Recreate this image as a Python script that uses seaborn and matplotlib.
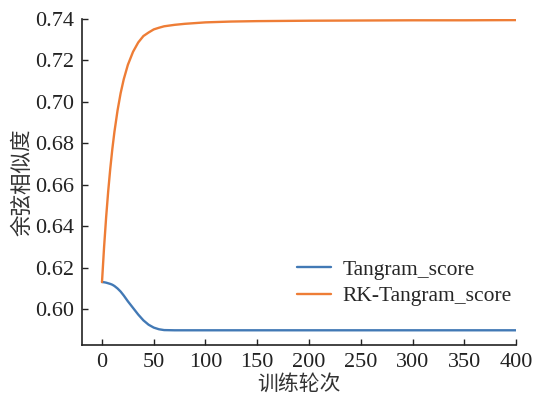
import matplotlib
matplotlib.use("Agg")
import matplotlib.pyplot as plt
import seaborn as sns
import pandas as pd

epochs = [0, 2, 4, 6, 8, 10, 12, 15, 18, 21, 25, 30, 35, 40, 45, 50, 55, 60, 70,
          80, 100, 125, 150, 200, 250, 300, 350, 400]
tangram = [0.6130, 0.6129, 0.6127, 0.6124, 0.6121, 0.6117, 0.6111, 0.6099, 0.6084,
           0.6065, 0.6037, 0.6005, 0.5973, 0.5945, 0.5924, 0.5910, 0.5902, 0.5898,
           0.5897, 0.5897, 0.5897, 0.5897, 0.5897, 0.5897, 0.5897, 0.5897, 0.5897, 0.5897]
rk_tangram = [0.6130, 0.6298, 0.6443, 0.6569, 0.6678, 0.6773, 0.6855, 0.6958, 0.7042,
              0.7109, 0.7179, 0.7242, 0.7287, 0.7318, 0.7335, 0.7350, 0.7358, 0.7365,
              0.7372, 0.7377, 0.7384, 0.7388, 0.7390, 0.7392, 0.7393, 0.7394, 0.7394, 0.7395]
series_names = ["Tangram_score", "RK-Tangram_score"]
x_ticks = [0, 50, 100, 150, 200, 250, 300, 350, 400]
y_ticks = [0.60, 0.62, 0.64, 0.66, 0.68, 0.70, 0.72, 0.74]

df = pd.DataFrame({
    "epoch": epochs * 2,
    "score": tangram + rk_tangram,
    "series": [series_names[0]] * len(epochs) + [series_names[1]] * len(epochs),
})

sns.set_style("ticks")
plt.rcParams["font.family"] = ["Liberation Serif", "Noto Sans CJK SC"]
plt.rcParams["axes.unicode_minus"] = False

fig = plt.figure(figsize=(5.34, 3.97), dpi=100)
ax = fig.add_axes([0.1536, 0.131, 0.8127, 0.821])

sns.lineplot(data=df, x="epoch", y="score", hue="series", hue_order=series_names,
             palette=["#4279b5", "#ee7d36"], linewidth=1.7, ax=ax)

ax.set_xlim(-19.3, 400)
ax.set_ylim(0.5826, 0.74)
ax.set_xticks(x_ticks)
ax.set_yticks(y_ticks)
ax.set_xticklabels([str(t) for t in x_ticks])
ax.set_yticklabels([f"{t:.2f}" for t in y_ticks])
ax.tick_params(direction="in", length=4, width=1, labelsize=16, colors="#222222", pad=6)
for s in ["top", "right"]:
    ax.spines[s].set_visible(False)
for s in ["left", "bottom"]:
    ax.spines[s].set_linewidth(1.2)
    ax.spines[s].set_color("#222222")

ax.set_xlabel("训练轮次", fontsize=15, labelpad=2, color="#333333")
ax.set_ylabel("余弦相似度", fontsize=15.5, labelpad=1, color="#333333")

leg = ax.legend(loc="center right", bbox_to_anchor=(1.035, 0.19), frameon=False,
                fontsize=15.5, handlelength=1.55, handletextpad=0.55, labelspacing=0.3)
leg.set_title(None)

fig.savefig("out.png", dpi=100)
